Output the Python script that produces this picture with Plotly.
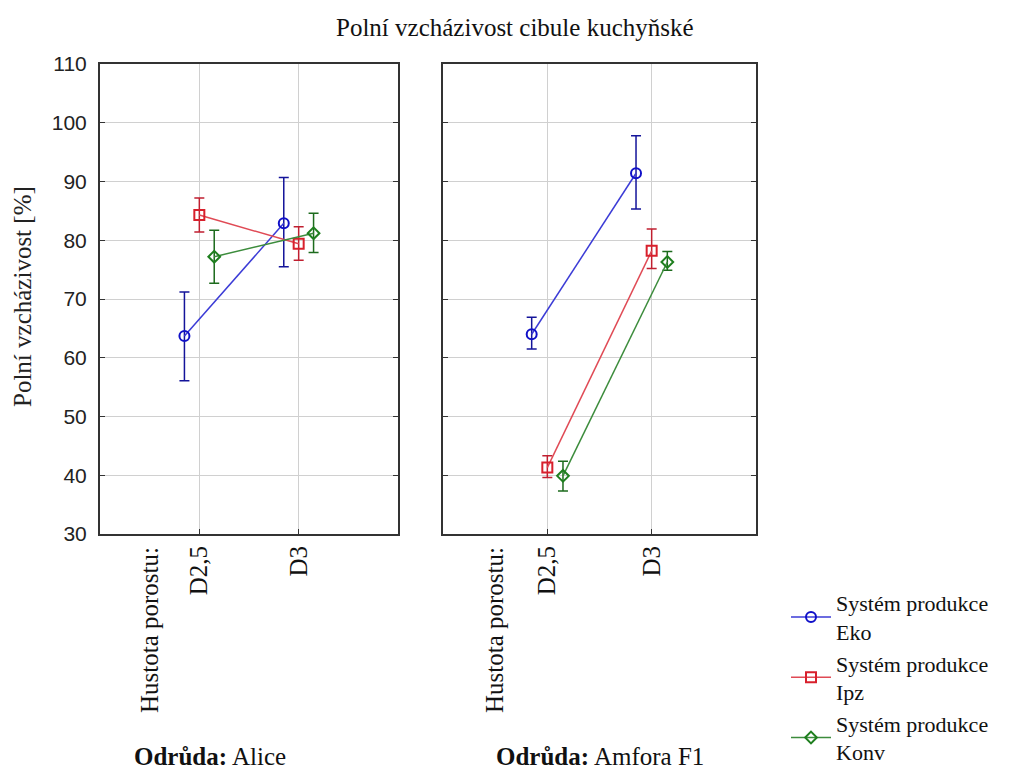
import plotly.graph_objects as go

# ---------------- data ----------------
categories = ["D2,5", "D3"]
varieties = ["Alice", "Amfora F1"]
systems = ["Eko", "Ipz", "Konv"]
y_ticks = [30, 40, 50, 60, 70, 80, 90, 100, 110]

# means per system (index 0 = D2,5, 1 = D3)
alice_mean = {"Eko": [63.7, 82.9], "Ipz": [84.3, 79.4], "Konv": [77.2, 81.2]}
alice_upper = {"Eko": [71.2, 90.7], "Ipz": [87.2, 82.3], "Konv": [81.7, 84.6]}
alice_lower = {"Eko": [56.1, 75.5], "Ipz": [81.4, 76.6], "Konv": [72.7, 77.9]}

amfora_mean = {"Eko": [64.0, 91.4], "Ipz": [41.3, 78.2], "Konv": [39.9, 76.3]}
amfora_upper = {"Eko": [66.9, 97.8], "Ipz": [43.3, 81.9], "Konv": [42.4, 78.1]}
amfora_lower = {"Eko": [61.5, 85.3], "Ipz": [39.6, 75.2], "Konv": [37.3, 74.9]}

# ---------------- style ----------------
OFF = 8                      # page body margin
W, H = 1025 - OFF, 769 - OFF
SERIF = "Liberation Serif"
SANS = "Liberation Sans"
FS = 25

style = {
    "Eko": dict(line="#3b3bd6", marker="#1010c8", err="#14149a", symbol="circle-open", size=10),
    "Ipz": dict(line="#e04a55", marker="#d8202c", err="#c01f30", symbol="square-open", size=10),
    "Konv": dict(line="#3c8c3c", marker="#1f7f1f", err="#1d6b1d", symbol="diamond-open", size=9),
}
offsets = {"Eko": -0.15, "Ipz": 0.0, "Konv": 0.15}

def px_x(p):
    return (p - OFF) / W

def px_y(p):
    return 1 - (p - OFF) / H

fig = go.Figure()

panels = [
    ("x", "y", alice_mean, alice_upper, alice_lower),
    ("x2", "y2", amfora_mean, amfora_upper, amfora_lower),
]

for pi, (xa, ya, mean, up, lo) in enumerate(panels):
    for s in systems:
        st = style[s]
        xs = [i + 1 + offsets[s] for i in range(len(categories))]
        fig.add_trace(go.Scatter(
            x=xs, y=mean[s], xaxis=xa, yaxis=ya,
            mode="lines+markers",
            name="Systém produkce<br>" + s,
            legendgroup=s,
            showlegend=(pi == 0),
            line=dict(color=st["line"], width=1.5),
            marker=dict(symbol=st["symbol"], size=st["size"], color=st["marker"],
                        line=dict(width=2, color=st["marker"])),
            error_y=dict(type="data", symmetric=False,
                         array=[u - m for u, m in zip(up[s], mean[s])],
                         arrayminus=[m - l for m, l in zip(mean[s], lo[s])],
                         color=st["err"], thickness=1.5, width=5),
        ))

ydom = [px_y(534), px_y(64)]
axis_common = dict(showgrid=True, gridcolor="#d0d0d0", gridwidth=1,
                   showline=True, linecolor="#333333", linewidth=2,
                   ticks="inside", ticklen=5, tickcolor="#333333", zeroline=False,
                   automargin=False)

fig.update_layout(
    width=W, height=H,
    margin=dict(l=0, r=0, t=0, b=0, autoexpand=False),
    paper_bgcolor="white", plot_bgcolor="white",
    xaxis=dict(domain=[px_x(100), px_x(398)], range=[0, 3], tickvals=[1, 2],
               ticktext=categories, tickangle=-90, mirror=True,
               tickfont=dict(family=SERIF, size=FS, color="#111"), **axis_common),
    xaxis2=dict(domain=[px_x(443), px_x(756)], range=[0, 3], tickvals=[1, 2],
                ticktext=categories, tickangle=-90, mirror=True,
                tickfont=dict(family=SERIF, size=FS, color="#111"), **axis_common),
    yaxis=dict(domain=ydom, range=[30, 110], tickvals=y_ticks, mirror="ticks",
               ticklabelstandoff=7,
               tickfont=dict(family=SANS, size=21, color="#222"), anchor="x", **axis_common),
    yaxis2=dict(domain=ydom, range=[30, 110], tickvals=y_ticks, mirror="ticks",
                showticklabels=False, anchor="x2", **axis_common),
    legend=dict(x=px_x(786), y=px_y(582), xanchor="left", yanchor="top",
                font=dict(family=SERIF, size=22, color="#111"),
                bgcolor="rgba(0,0,0,0)", tracegroupgap=0, itemwidth=40),
    showlegend=True,
)

annotations = [
    dict(text="Polní vzcházivost cibule kuchyňské", x=px_x(515), y=px_y(28),
         font=dict(family=SERIF, size=FS, color="#111")),
    dict(text="Polní vzcházivost [%]", x=px_x(22), y=px_y(297), textangle=-90,
         font=dict(family=SERIF, size=FS, color="#222")),
    dict(text="Hustota porostu:", x=px_x(149), y=px_y(545), textangle=-90, yanchor="top",
         font=dict(family=SERIF, size=FS, color="#111")),
    dict(text="Hustota porostu:", x=px_x(494), y=px_y(545), textangle=-90, yanchor="top",
         font=dict(family=SERIF, size=FS, color="#111")),
    dict(text="<b>Odrůda:</b> " + varieties[0], x=px_x(210), y=px_y(756),
         font=dict(family=SERIF, size=FS, color="#111")),
    dict(text="<b>Odrůda:</b> " + varieties[1], x=px_x(600), y=px_y(756),
         font=dict(family=SERIF, size=FS, color="#111")),
]
for a in annotations:
    a.setdefault("xref", "paper")
    a.setdefault("yref", "paper")
    a.setdefault("showarrow", False)
    a.setdefault("xanchor", "center")
    a.setdefault("yanchor", "middle")
fig.update_layout(annotations=annotations)

fig.write_html("out.html")
